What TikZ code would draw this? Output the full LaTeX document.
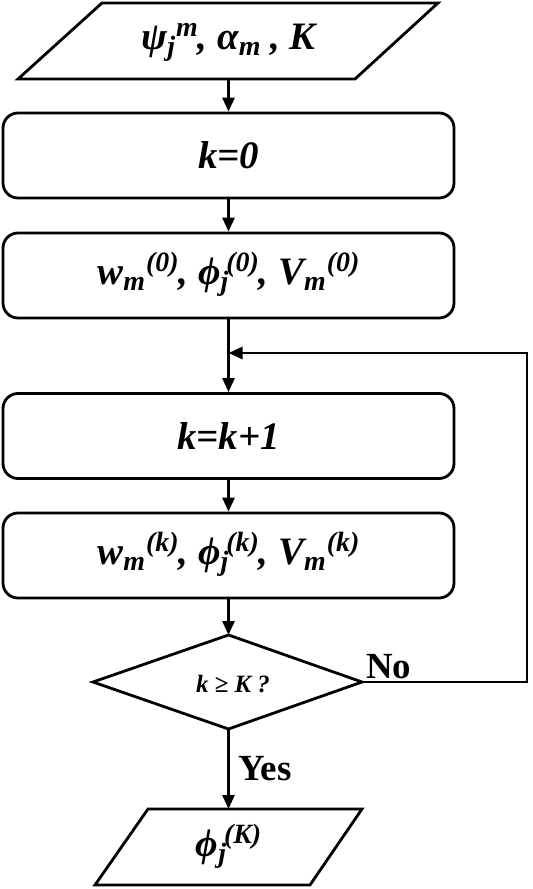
\documentclass[tikz,border=0pt]{standalone}
\usepackage{fontspec}
\setmainfont{Liberation Serif}
\usetikzlibrary{arrows.meta}
\newcommand\Sb[1]{\raisebox{-6bp}{\fontsize{28}{29}\selectfont #1}}
\newcommand\Sp[1]{\raisebox{13bp}{\fontsize{28}{29}\selectfont #1}}
\tikzset{
  stroke/.style={line width=2.8bp},
  box/.style={stroke, draw, rounded corners=15bp, minimum width=451bp, minimum height=85bp, inner sep=0pt},
  mtext/.style={font=\fontsize{39}{41}\selectfont\bfseries\itshape, inner sep=0pt},
  dtext/.style={font=\fontsize{25}{27}\selectfont\bfseries\itshape, inner sep=0pt},
  lbl/.style={font=\fontsize{37}{39}\selectfont\bfseries, inner sep=0pt},
  arr/.style={stroke, -{Triangle[length=14bp,width=12bp]}},
}
\begin{document}
\begin{tikzpicture}[x=1bp,y=-1bp]
\useasboundingbox (0,0) rectangle (533,889);
% top parallelogram
\coordinate (p1a) at (102,3);
\coordinate (p1b) at (438,3);
\coordinate (p1c) at (355,79);
\coordinate (p1d) at (18,79);
\draw[stroke, line join=miter] (p1a) -- (p1b) -- (p1c) -- (p1d) -- cycle;
\coordinate (p1s) at (228.5,79);
\node[mtext] (t1) at (228.5,42) {ψ\Sb{j}\kern1bp\Sp{m}, α\Sb{m} , K};
% boxes
\node[box] (b1) at (228.5,155.5) {};
\node[mtext] at (b1.center) {k=0};
\node[box] (b2) at (228.5,275.5) {};
\node[mtext] at ([yshift=1bp]b2.center) {w\Sb{m}\kern1bp\Sp{(0)}, ϕ\Sb{j}\kern-2bp\Sp{(0)}, V\Sb{m}\kern1bp\Sp{(0)}};
\node[box] (b3) at (228.5,436) {};
\node[mtext] at (b3.center) {k=k+1};
\node[box] (b4) at (228.5,555.5) {};
\node[mtext] at ([yshift=1bp]b4.center) {w\Sb{m}\kern1bp\Sp{(k)}, ϕ\Sb{j}\kern-2bp\Sp{(k)}, V\Sb{m}\kern1bp\Sp{(k)}};
% diamond
\coordinate (dT) at (228.5,635);
\coordinate (dR) at (362,682);
\coordinate (dB) at (228.5,729);
\coordinate (dL) at (93,682);
\draw[stroke, line join=miter] (dT) -- (dR) -- (dB) -- (dL) -- cycle;
\node[dtext] (dt) at (233,684) {k ≥ K ?};
% bottom parallelogram
\coordinate (p2a) at (148,809);
\coordinate (p2b) at (362,809);
\coordinate (p2c) at (310,885);
\coordinate (p2d) at (95,885);
\draw[stroke, line join=miter] (p2a) -- (p2b) -- (p2c) -- (p2d) -- cycle;
\coordinate (p2n) at (228.5,809);
\node[mtext] (t2) at (228.5,846) {ϕ\Sb{j}\kern-2bp\Sp{(K)}};
% connectors
\draw[arr] (p1s) -- (b1.north);
\draw[arr] (b1.south) -- (b2.north);
\draw[arr] (b2.south) -- (b3.north);
\draw[arr] (b3.south) -- (b4.north);
\draw[arr] (b4.south) -- (dT);
\draw[arr] (dB) -- (p2n);
\coordinate (r1) at (527,682);
\coordinate (r2) at (527,353);
\coordinate (j) at (228.5,353);
\draw[arr] (dR) -- (r1) -- (r2) -- (j);
\node[lbl, anchor=base west] (no) at (366,678) {No};
\node[lbl, anchor=base west] (yes) at (238,780) {Yes};
\end{tikzpicture}
\end{document}
